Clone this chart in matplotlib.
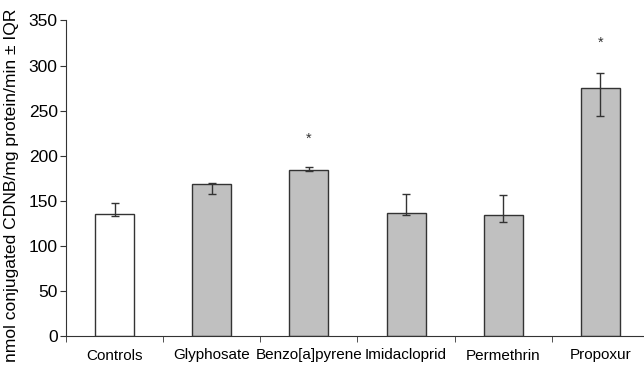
import numpy as np
import matplotlib.pyplot as plt

plt.rcParams['font.family'] = ['Liberation Sans', 'DejaVu Sans']

groups = ['Controls', 'Glyphosate', 'Benzo[a]pyrene', 'Imidacloprid', 'Permethrin', 'Propoxur']
activity = [135, 169, 184, 136, 134, 275]
iqr_low = [133, 158, 183, 134, 126, 244]
iqr_high = [147, 170, 187, 158, 156, 292]
significant = [False, False, True, False, False, True]
star_y = [0, 0, 219, 0, 0, 325]
colors = ['white', '#c0c0c0', '#c0c0c0', '#c0c0c0', '#c0c0c0', '#c0c0c0']

fig = plt.figure(figsize=(6.44, 3.69), dpi=100)
ax = fig.add_axes([66 / 644, 33 / 369, 583 / 644, 315.5 / 369])

x = np.arange(len(groups))
yerr = [np.array(activity) - np.array(iqr_low), np.array(iqr_high) - np.array(activity)]
ax.bar(x, activity, width=0.4, color=colors, edgecolor='#333333', linewidth=1.0, zorder=2)
ax.errorbar(x, activity, yerr=yerr, fmt='none', ecolor='#333333', elinewidth=1.0,
            capsize=2.6, capthick=1.0, zorder=3)

for i in range(len(groups)):
    if significant[i]:
        ax.text(x[i], star_y[i], '*', ha='center', va='center', fontsize=10.5, color='#333333')

ax.set_xlim(-0.5, len(groups) - 0.5)
ax.set_ylim(0, 350)
ax.set_yticks(np.arange(0, 351, 50))
ax.set_xticks(x)
ax.set_xticklabels(groups, fontsize=11)
ax.set_xticks(np.arange(-0.5, len(groups), 1.0), minor=True)
ax.tick_params(axis='x', which='major', length=0, pad=9)
ax.tick_params(axis='x', which='minor', length=4, color='#333333')
ax.tick_params(axis='y', length=4, labelsize=12.5, color='#333333', pad=2)
ax.spines['top'].set_visible(False)
ax.spines['right'].set_visible(False)
for side in ['left', 'bottom']:
    ax.spines[side].set_color('#333333')
ax.set_ylabel('nmol conjugated CDNB/mg protein/min \u00b1 IQR', fontsize=12.6)
ax.yaxis.set_label_coords(-0.081, 0.479)

fig.savefig('out.png', dpi=100)
